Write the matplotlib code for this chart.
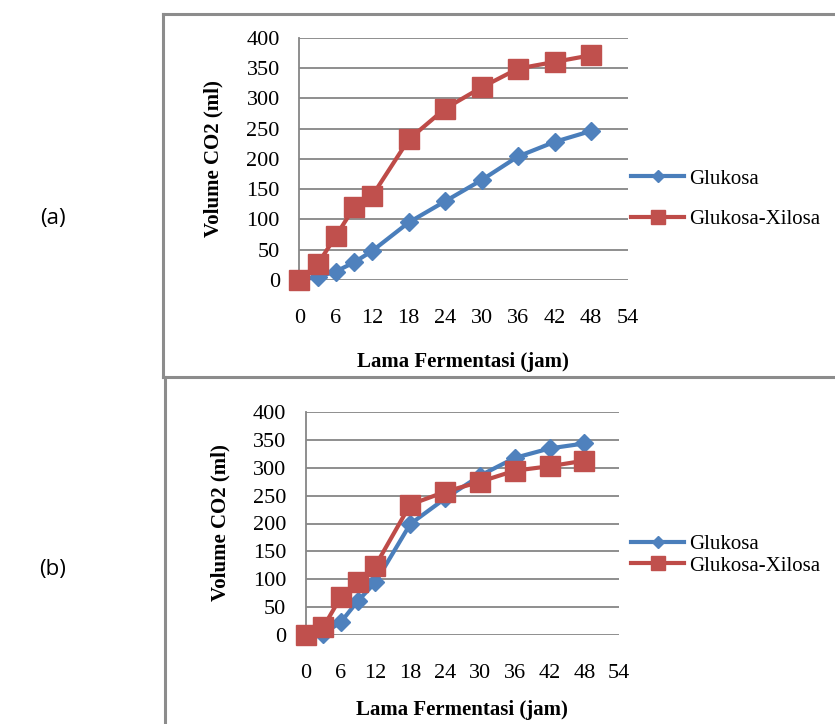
import numpy as np
import matplotlib
matplotlib.use('Agg')
import matplotlib.pyplot as plt
from matplotlib.lines import Line2D

W, H = 835, 724

jam = [0, 3, 6, 9, 12, 18, 24, 30, 36, 42, 48]
xticks = [0, 6, 12, 18, 24, 30, 36, 42, 48, 54]
yticks = [0, 50, 100, 150, 200, 250, 300, 350, 400]

# panel (a)
glukosa_a = [0, 5, 14, 29, 48, 95, 130, 165, 204, 228, 246]
xilosa_a = [0, 26, 72, 120, 139, 232, 283, 318, 349, 360, 371]
# panel (b)
glukosa_b = [0, 2, 22, 61, 94, 199, 245, 286, 318, 335, 344]
xilosa_b = [0, 13, 67, 94, 124, 234, 257, 275, 295, 303, 313]

blue_line, blue_fill = '#4A7EBB', '#4F81BD'
red_line, red_fill = '#BE4B48', '#C0504D'
grid_c = '#868686'
serif = 'Liberation Serif'

fig = plt.figure(figsize=(W / 100, H / 100), dpi=100)


def px(x, y):
    return x / W, 1 - y / H


def make_axes(left, right, top, bottom):
    return fig.add_axes([left / W, 1 - bottom / H, (right - left) / W, (bottom - top) / H])


def draw_panel(ax, g, r, leg_y, leg_sp, ylab_x, ylab_y, xlab_x, xlab_y):
    ax.plot(jam, g, color=blue_line, lw=3, marker='D', ms=9,
            mfc=blue_fill, mec=blue_fill, label='Glukosa', zorder=3, clip_on=False)
    ax.plot(jam, r, color=red_line, lw=3, marker='s', ms=14,
            mfc=red_fill, mec=red_fill, label='Glukosa-Xilosa', zorder=4, clip_on=False)
    ax.set_xlim(0, 54)
    ax.set_ylim(0, 400)
    ax.set_xticks(xticks)
    ax.set_yticks(yticks)
    ax.grid(axis='y', color=grid_c, lw=1.3)
    ax.set_axisbelow(True)
    for s in ['top', 'right', 'bottom']:
        ax.spines[s].set_visible(False)
    ax.spines['left'].set_color(grid_c)
    ax.spines['left'].set_linewidth(1.3)
    ax.tick_params(length=0, labelsize=16)
    ax.tick_params(axis='y', pad=14)
    ax.tick_params(axis='x', pad=21)
    for lab in ax.get_xticklabels() + ax.get_yticklabels():
        lab.set_fontfamily(serif)
    fig.text(*px(ylab_x, ylab_y), 'Volume CO2 (ml)', rotation=90,
             ha='center', va='center', fontsize=15, fontweight='bold', family=serif)
    fig.text(*px(xlab_x, xlab_y), 'Lama Fermentasi (jam)',
             ha='center', va='center', fontsize=15, fontweight='bold', family=serif)
    ax.legend(loc='center left', bbox_to_anchor=px(631, leg_y), bbox_transform=fig.transFigure,
              frameon=False, prop={'family': serif, 'size': 15}, handlelength=2.55,
              handletextpad=0.25, borderaxespad=0, borderpad=0, markerscale=0.7,
              labelspacing=leg_sp)


ax1 = make_axes(299.3, 627.5, 37.7, 280)
draw_panel(ax1, glukosa_a, xilosa_a, 199, 1.0, 213, 159, 463, 362)

ax2 = make_axes(305.7, 619.3, 412.3, 634.7)
draw_panel(ax2, glukosa_b, xilosa_b, 555, 0.1, 220, 523, 462, 710)

# panel frames
for xs, ys in [([163, 163], [14, 377]), ([163, 835], [14, 14]), ([163, 835], [377, 377]),
               ([165, 165], [377, 724])]:
    fig.add_artist(Line2D([x / W for x in xs], [1 - y / H for y in ys], color='#8c8c8c', lw=2.2))

fig.text(*px(53, 218), '(a)', ha='center', va='center', fontsize=16, family='Open Sans')
fig.text(*px(53, 570), '(b)', ha='center', va='center', fontsize=16, family='Open Sans')

fig.savefig('out.png', dpi=100)
